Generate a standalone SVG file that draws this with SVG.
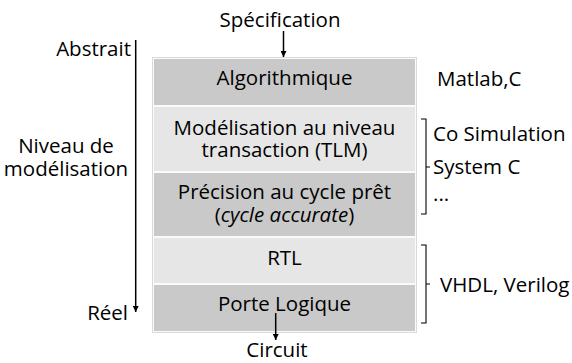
<svg xmlns="http://www.w3.org/2000/svg" width="572" height="363" viewBox="0 0 572 363">
<defs>
<style>
text{font-family:"Open Sans","Noto Sans","Liberation Sans",sans-serif;font-size:20.5px;fill:#000}
.c{text-anchor:middle}
.r{text-anchor:end}
.dark{fill:#c9c9c9}
.light{fill:#e6e6e6}
.ln{stroke:#000;stroke-width:1.5;fill:none}
.br{stroke:#000;stroke-width:1.1;fill:none}
</style>
<marker id="ah" viewBox="0 0 10 10" refX="10" refY="5" markerWidth="6" markerHeight="6" markerUnits="userSpaceOnUse" orient="auto">
<path d="M0,0 L10,5 L0,10 z" fill="#000"/>
</marker>
</defs>
<rect x="0" y="0" width="572" height="363" fill="#fff"/>
<g id="table">
<rect x="152.5" y="57.5" width="264" height="275" fill="#fafafa" stroke="#dadada"/>
</g>
<g id="algorithmique">
<rect class="dark" x="154" y="59" width="261" height="46"/>
<text class="c" x="284.5" y="85">Algorithmique</text>
</g>
<g id="tlm">
<rect class="light" x="154" y="107" width="261" height="64"/>
<text class="c" x="284.5" y="135">Modélisation au niveau</text>
<text class="c" x="284.5" y="157">transaction (TLM)</text>
</g>
<g id="cycle">
<rect class="dark" x="154" y="173" width="261" height="63"/>
<text class="c" x="284.5" y="199">Précision au cycle prêt</text>
<text class="c" x="284.5" y="222">(<tspan font-style="italic">cycle accurate</tspan>)</text>
</g>
<g id="rtl">
<rect class="light" x="154" y="238" width="261" height="45"/>
<text class="c" x="284.5" y="265">RTL</text>
</g>
<g id="porte">
<rect class="dark" x="154" y="285" width="261" height="46"/>
<text class="c" x="284.5" y="311">Porte Logique</text>
</g>
<g id="labels">
<text class="c" x="280" y="27">Spécification</text>
<text class="c" x="277" y="357">Circuit</text>
<text class="r" x="131" y="56">Abstrait</text>
<text class="c" x="66" y="153">Niveau de</text>
<text class="c" x="66" y="176">modélisation</text>
<text class="r" x="128" y="320">Réel</text>
<text x="437" y="86">Matlab,C</text>
<text x="433" y="141">Co Simulation</text>
<text x="433" y="174">System C</text>
<text x="433" y="201">...</text>
<text x="440" y="292">VHDL, Verilog</text>
</g>
<g id="connectors">
<line class="ln" x1="135.7" y1="40" x2="135.7" y2="312" marker-end="url(#ah)"/>
<line class="ln" x1="283.5" y1="31" x2="283.5" y2="57" marker-end="url(#ah)"/>
<line class="ln" x1="275.7" y1="313" x2="275.7" y2="340" marker-end="url(#ah)"/>
<path class="br" d="M421,119 H426 V214 H421 M426,167 H430"/>
<path class="br" d="M421,245 H426 V323 H421 M426,284 H430"/>
</g>
</svg>
